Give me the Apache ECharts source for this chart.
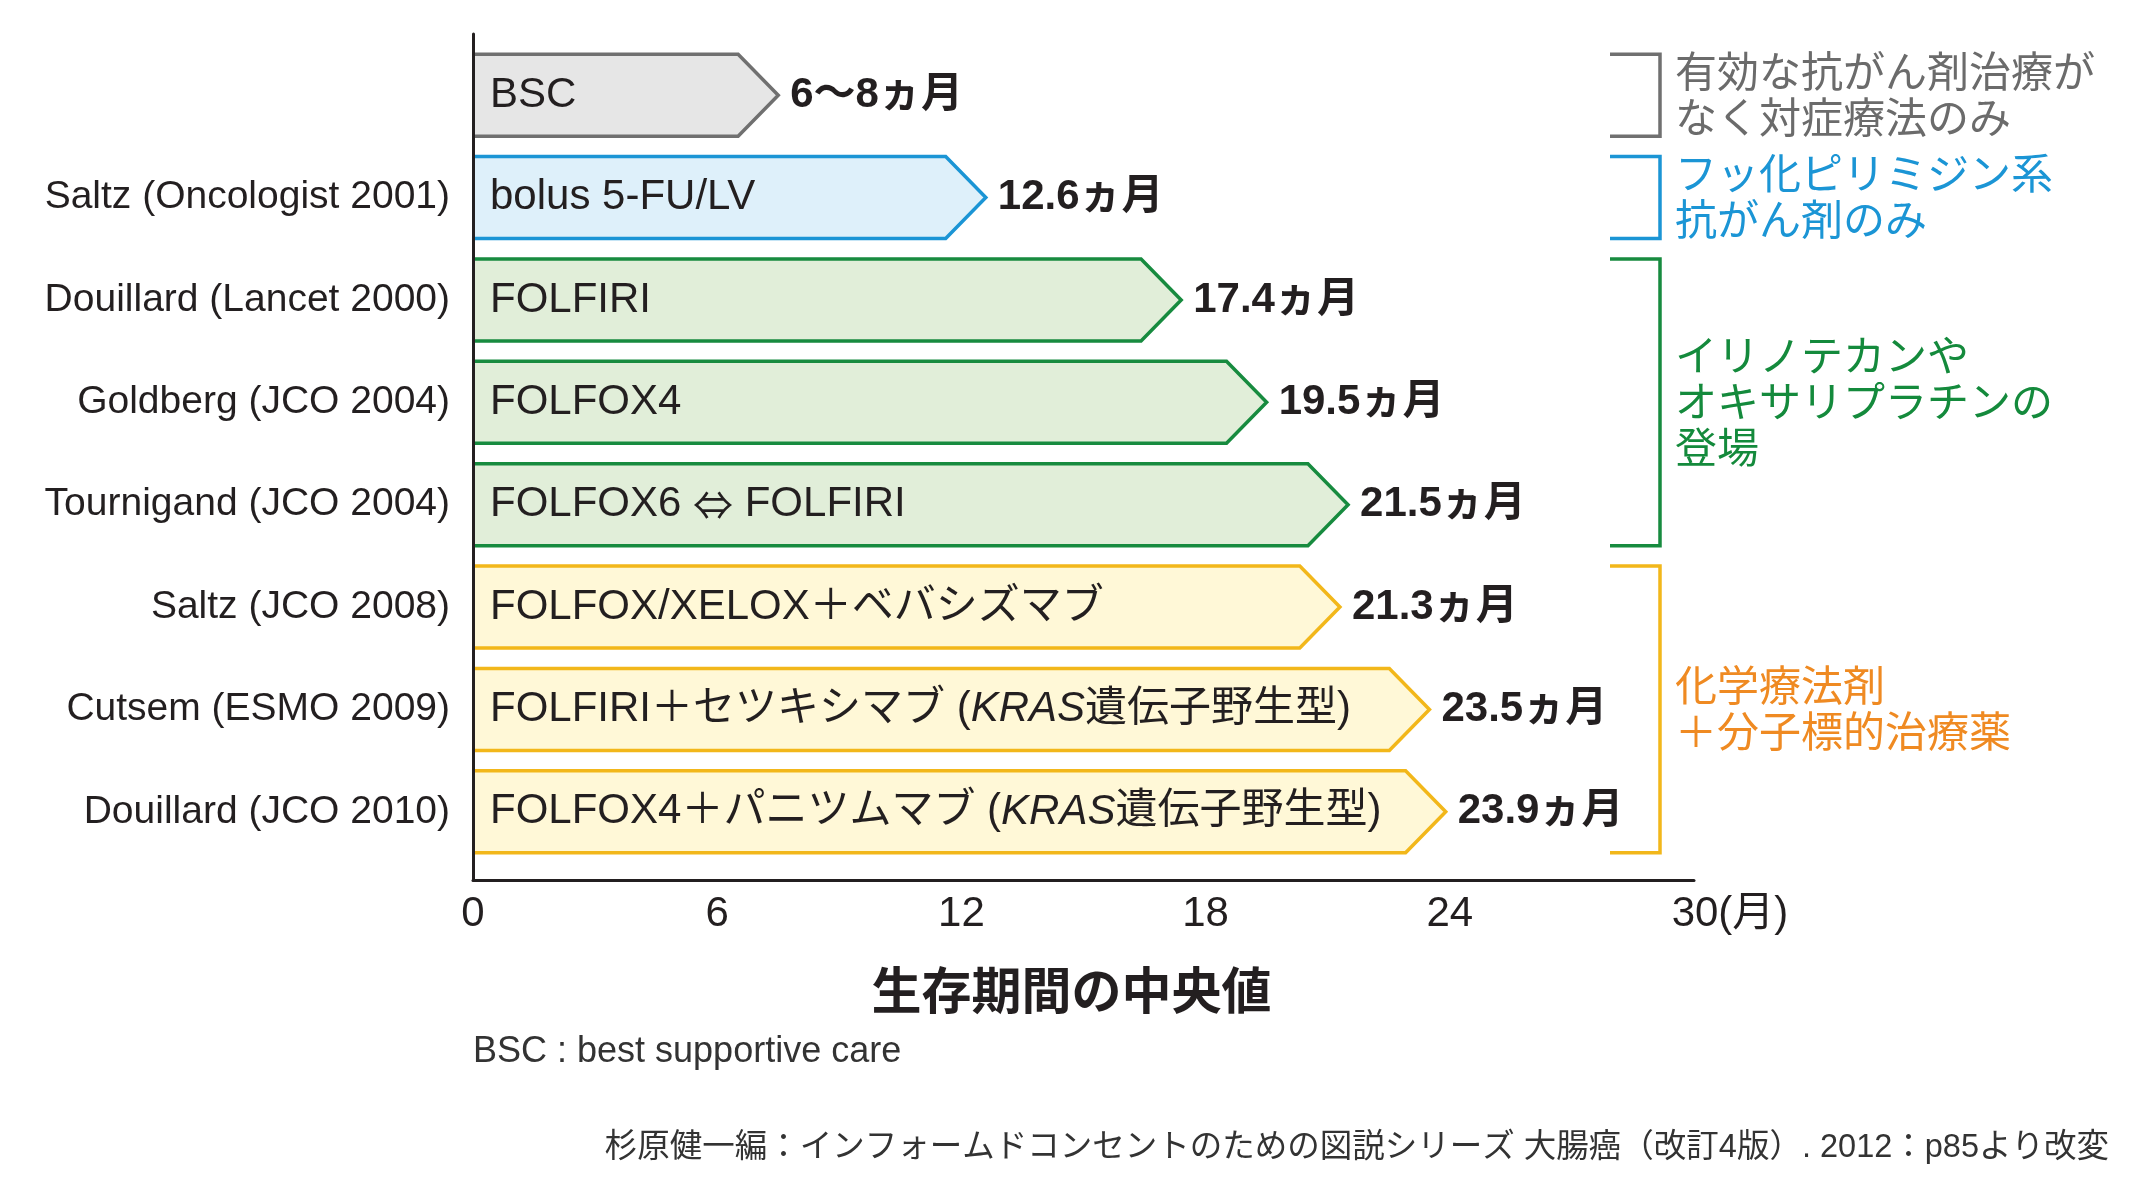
<!DOCTYPE html>
<html>
<head>
<meta charset="utf-8">
<script src="https://cdn.jsdelivr.net/npm/echarts@6.0.0/dist/echarts.min.js"></script>
<style>
html, body { margin: 0; padding: 0; background: #fff; }
#chart { width: 2141px; height: 1193px; }
</style>
</head>
<body>
<div id="chart"></div>
<script>
// studies (y axis), regimens inside the arrows, median survival in months
var studies = ['', 'Saltz (Oncologist 2001)', 'Douillard (Lancet 2000)', 'Goldberg (JCO 2004)', 'Tournigand (JCO 2004)', 'Saltz (JCO 2008)', 'Cutsem (ESMO 2009)', 'Douillard (JCO 2010)'];
var regimens = ['BSC', 'bolus 5-FU/LV', 'FOLFIRI', 'FOLFOX4', 'FOLFOX6 ⇔ FOLFIRI', 'FOLFOX/XELOX＋ベバシズマブ', 'FOLFIRI＋セツキシマブ (KRAS遺伝子野生型)', 'FOLFOX4＋パニツムマブ (KRAS遺伝子野生型)'];
var months = [7.5, 12.6, 17.4, 19.5, 21.5, 21.3, 23.5, 23.9];
var monthText = ['6〜8', '12.6', '17.4', '19.5', '21.5', '21.3', '23.5', '23.9'];
var rowGroup = [0, 1, 2, 2, 2, 3, 3, 3];

// treatment eras (bracket notes on the right)
var groupNames = ['有効な抗がん剤治療が\nなく対症療法のみ', 'フッ化ピリミジン系\n抗がん剤のみ', 'イリノテカンや\nオキサリプラチンの\n登場', '化学療法剤\n＋分子標的治療薬'];
var groupFirst = [0, 1, 2, 5];
var groupLast = [0, 1, 4, 7];

var FONT = "'Liberation Sans','Noto Sans CJK JP',sans-serif";
var CJK = "'Noto Sans CJK JP',sans-serif";
var INK = '#231f20';
var groupStyle = [
    { stroke: '#707070', fill: '#e6e6e6', text: '#6b6b6b' },
    { stroke: '#1b95d5', fill: '#def0fa', text: '#1b95d5' },
    { stroke: '#178b3f', fill: '#e1eed9', text: '#148a3c' },
    { stroke: '#f2b71a', fill: '#fff8d7', text: '#ef8a22' }
];

var chart = echarts.init(document.getElementById('chart'));

function renderArrow(params, api) {
    var i = api.value(0);
    var v = api.value(1);
    var s = groupStyle[rowGroup[i]];
    var base = api.coord([0, i]);
    var end = api.coord([v, i]);
    var h = api.size([0, 1])[1] * 0.8;
    var top = base[1] - h / 2, bot = base[1] + h / 2;
    var tip = end[0], neck = tip - h * 0.49;
    var x0 = base[0];
    var txt = regimens[i].replace('KRAS', '{i|KRAS}').replace('⇔', '{a|⇔}');
    var pts = [[x0, top], [neck, top], [tip, base[1]], [neck, bot], [x0, bot]];
    return {
        type: 'group',
        children: [{
            type: 'polygon',
            shape: { points: pts },
            style: { fill: s.fill }
        }, {
            type: 'polyline',
            shape: { points: pts },
            style: { stroke: s.stroke, lineWidth: 3.5, fill: null }
        }, {
            type: 'text',
            x: x0 + 17,
            y: base[1],
            style: {
                text: txt,
                fontSize: 42,
                fontFamily: FONT,
                fill: INK,
                verticalAlign: 'middle',
                align: 'left',
                rich: {
                    i: { fontStyle: 'italic', fontSize: 42, fontFamily: FONT, fill: INK },
                    a: { fontSize: 40, fontFamily: CJK, fill: INK }
                }
            }
        }, {
            type: 'text',
            x: tip + 12,
            y: base[1],
            style: {
                text: monthText[i] + 'ヵ月',
                fontSize: 42,
                fontWeight: 'bold',
                fontFamily: FONT,
                fill: INK,
                verticalAlign: 'middle',
                align: 'left'
            }
        }]
    };
}

function renderBracket(params, api) {
    var first = api.value(0), last = api.value(1), g = api.value(2);
    var s = groupStyle[g];
    var h = api.size([0, 1])[1] * 0.8;
    var right = api.coord([30, first])[0];
    var yTop = api.coord([0, first])[1] - h / 2;
    var yBot = api.coord([0, last])[1] + h / 2;
    var xv = right - 34, xl = right - 84;
    return {
        type: 'group',
        children: [{
            type: 'polyline',
            shape: { points: [[xl, yTop], [xv, yTop], [xv, yBot], [xl, yBot]] },
            style: { stroke: s.stroke, lineWidth: 3.5, fill: null }
        }, {
            type: 'text',
            x: xv + 15,
            y: (yTop + yBot) / 2 + 3,
            style: {
                text: groupNames[g],
                fontSize: 42,
                lineHeight: 46,
                fontFamily: FONT,
                fill: s.text,
                verticalAlign: 'middle',
                align: 'left'
            }
        }]
    };
}

var option = {
    backgroundColor: '#fff',
    animation: false,
    grid: [
        { left: 473, top: 34, width: 1221, height: 846 },
        { left: 473, top: 44, width: 1221, height: 819 }
    ],
    xAxis: [{
        gridIndex: 0,
        type: 'value',
        min: 0,
        max: 30,
        interval: 6,
        z: 5,
        axisLine: { show: true, lineStyle: { color: INK, width: 3 } },
        axisTick: { show: false },
        splitLine: { show: false },
        axisLabel: {
            margin: 13,
            fontSize: 42,
            fontFamily: FONT,
            color: INK,
            formatter: function(v) {
                return v === 30 ? '{p|}30{u|(月)}' : String(v);
            },
            rich: {
                p: { width: 72 },
                u: { fontSize: 42, fontFamily: FONT, color: INK }
            }
        },
        name: '生存期間の中央値',
        nameLocation: 'middle',
        nameGap: 90,
        nameTextStyle: { fontSize: 50, fontWeight: 'bold', fontFamily: FONT, color: INK, padding: [0, 24, 0, 0] }
    }, {
        gridIndex: 1,
        type: 'value',
        min: 0,
        max: 30,
        show: false
    }],
    yAxis: [{
        gridIndex: 0,
        type: 'value',
        min: 0,
        max: 1,
        z: 5,
        axisLine: { show: true, lineStyle: { color: INK, width: 3 } },
        axisTick: { show: false },
        axisLabel: { show: false },
        splitLine: { show: false }
    }, {
        gridIndex: 1,
        type: 'category',
        inverse: true,
        data: studies,
        axisLine: { show: false },
        axisTick: { show: false },
        axisLabel: { interval: 0, margin: 23, fontSize: 39, fontFamily: FONT, color: INK }
    }],
    series: [{
        type: 'custom',
        xAxisIndex: 1,
        yAxisIndex: 1,
        renderItem: renderArrow,
        encode: { y: 0, x: 1 },
        data: months.map(function(m, i) { return [i, m]; })
    }, {
        type: 'custom',
        xAxisIndex: 1,
        yAxisIndex: 1,
        renderItem: renderBracket,
        encode: { y: 0, x: 2 },
        data: groupFirst.map(function(f, g) { return [f, groupLast[g], g]; })
    }],
    graphic: [{
        type: 'text',
        left: 473,
        top: 1034,
        style: { text: 'BSC : best supportive care', fontSize: 36, fontFamily: FONT, fill: '#333' }
    }, {
        type: 'text',
        right: 32,
        top: 1132,
        style: { text: '杉原健一編：インフォームドコンセントのための図説シリーズ 大腸癌（改訂4版）. 2012：p85より改変', fontSize: 32.5, fontFamily: FONT, fill: '#333' }
    }]
};

chart.setOption(option);
</script>
</body>
</html>
